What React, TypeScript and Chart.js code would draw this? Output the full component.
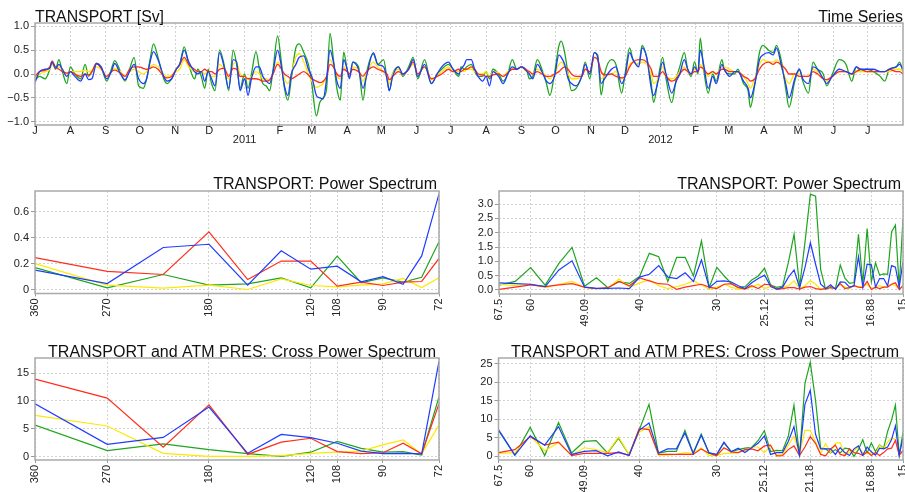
import React, { useEffect, useRef } from 'react';
import { Chart, registerables } from 'chart.js';

Chart.register(...registerables);

const FONT_FAMILY = '"Liberation Sans", Arial, Helvetica, sans-serif';
const GREEN = '#1ea51e';
const BLUE = '#1e3cff';
const RED = '#ff2d1a';
const YELLOW = '#ffe800';

// ---------------- Time series (days since 1 Jul 2010) ----------------
const tsDays = [
  0, 4, 9, 13, 15, 18, 21, 24, 28, 31,
  35, 40, 44, 47, 50, 54, 58, 63, 67, 70,
  75, 79, 83, 87, 91, 95, 98, 101, 104, 108,
  113, 116, 120, 124, 127, 131, 135, 140, 143, 146,
  149, 152, 155, 158, 162, 166, 170, 174, 177, 180,
  184, 187, 190, 194, 197, 200, 203, 206, 209, 213,
  216, 219, 222, 225, 229, 232, 236, 240, 243, 247,
  250, 253, 256, 259, 262, 265, 268, 271, 274, 276,
  279, 284, 288, 291, 297, 301, 306, 309, 311, 314,
  319, 323, 328, 332, 336, 342, 348, 353, 357, 363,
  367, 372, 374, 377, 379, 383, 386, 389, 393, 396,
  399, 402, 407, 411, 415, 419, 423, 427, 432, 434,
  437, 441, 445, 449, 452, 456, 460, 462, 465, 468,
  471, 475, 480, 483, 487, 491, 494, 497, 500, 506,
  510, 515, 518, 522, 525, 530, 533, 537, 541, 543,
  547, 551, 554, 559, 563, 566, 570, 573, 576, 579,
  582, 584, 587, 591, 595, 598, 603, 605, 610, 614,
  617, 622, 626, 628, 632, 636, 639, 644, 648, 651,
  655, 659, 662, 667, 671, 674, 679, 683, 687, 692,
  695, 700, 706, 712, 717, 721, 725, 730, 736, 742,
  746, 750, 756, 759, 762,
];
const tsGreen = [
  -0.12, -0.05, -0.1, 0.1, 0.27, 0.1, 0.3, 0.05, -0.2, 0.15,
  0.0, -0.1, 0.2, -0.05, 0.05, 0.22, 0.15, -0.15, 0.1, 0.28,
  0.05, -0.15, 0.1, 0.35, -0.25, -0.3, -0.1, 0.3, 0.63, 0.35,
  -0.1, -0.2, -0.1, 0.1, 0.2, 0.57, 0.2, -0.1, 0.1, -0.05,
  -0.3, 0.1, -0.2, -0.35, 0.5, 0.2, -0.35, 0.5, 0.2, -0.3,
  0.0, -0.3, 0.0, 0.47, 0.1, -0.2, -0.25, -0.35, 0.1, 0.8,
  0.3, -0.3, -0.55, -0.1, 0.55, 0.63, 0.45, 0.2, -0.2, -0.88,
  -0.6, -0.5, -0.3, 0.85, 0.3, -0.3, -0.55, 0.46, 0.1, -0.05,
  0.25, 0.15, -0.55, 0.0, 0.42, 0.2, 0.3, -0.1, -0.35, 0.0,
  0.15, -0.05, 0.15, 0.35, -0.1, 0.3, -0.2, 0.0, 0.1, 0.2,
  0.1, -0.05, 0.15, 0.1, 0.15, 0.2, 0.05, -0.05, -0.05, 0.05,
  -0.1, 0.1, 0.0, -0.15, 0.0, 0.3, 0.1, 0.15, 0.05, -0.1,
  -0.05, 0.3, 0.1, -0.2, -0.45, 0.0, 0.6, 0.69, 0.45, 0.0,
  -0.35, -0.3, -0.05, 0.25, -0.1, 0.45, 0.4, -0.44, 0.0, 0.3,
  0.2, -0.4, 0.0, 0.55, 0.3, 0.2, 0.6, 0.35, -0.2, -0.6,
  -0.1, 0.35, -0.1, -0.6, -0.1, 0.15, 0.45, 0.1, -0.05, 0.26,
  0.0, 0.75, 0.1, -0.4, 0.0, -0.15, 0.3, 0.1, 0.0, 0.0,
  0.1, -0.2, -0.35, -0.7, -0.2, 0.45, 0.6, 0.5, 0.45, 0.6,
  0.3, -0.3, -0.7, -0.15, 0.1, -0.15, -0.4, 0.25, 0.1, 0.0,
  -0.25, 0.0, 0.3, 0.2, -0.15, 0.15, 0.05, 0.1, 0.05, -0.05,
  -0.15, 0.1, 0.15, 0.25, 0.05,
];
const tsBlue = [
  -0.18, 0.05, 0.1, 0.12, 0.25, 0.12, 0.2, 0.1, -0.05, 0.05,
  -0.05, -0.15, 0.0, -0.12, -0.1, 0.22, 0.15, -0.1, 0.05, 0.22,
  0.0, -0.12, 0.05, 0.2, -0.1, -0.2, -0.1, 0.25, 0.47, 0.3,
  -0.05, -0.15, -0.1, 0.1, 0.2, 0.5, 0.25, 0.05, 0.0, 0.05,
  -0.15, 0.05, -0.1, -0.25, 0.45, 0.15, -0.3, 0.3, 0.25, -0.35,
  -0.1, -0.45, -0.1, 0.15, 0.15, -0.05, -0.15, -0.2, 0.05, 0.5,
  0.2, -0.25, -0.45, 0.0, 0.2, 0.35, 0.38, 0.1, -0.05, -0.45,
  -0.5, -0.52, -0.1, 0.5, 0.25, -0.15, -0.3, 0.3, 0.1, -0.1,
  0.25, 0.1, -0.3, -0.05, 0.45, 0.2, 0.15, -0.1, -0.35, -0.05,
  0.15, 0.0, 0.1, 0.3, -0.05, 0.2, -0.2, 0.0, 0.15, 0.25,
  0.1, 0.0, 0.1, 0.2, 0.3, 0.3, 0.1, -0.05, -0.15, -0.05,
  -0.25, 0.05, -0.05, -0.2, 0.0, 0.15, 0.1, 0.15, 0.05, 0.0,
  -0.1, 0.2, 0.05, -0.15, -0.2, -0.05, 0.4, 0.35, 0.2, -0.1,
  -0.2, -0.25, -0.05, 0.2, 0.0, 0.45, 0.35, -0.2, -0.1, 0.1,
  0.15, -0.2, -0.05, 0.45, 0.3, 0.15, 0.55, 0.35, -0.3, -0.45,
  -0.15, 0.25, 0.0, -0.4, -0.15, 0.0, 0.3, 0.1, 0.0, 0.15,
  0.05, 0.5, 0.2, -0.3, -0.05, -0.2, 0.2, 0.1, -0.05, 0.05,
  0.05, -0.15, -0.3, -0.5, -0.2, 0.3, 0.4, 0.45, 0.4, 0.55,
  0.2, -0.2, -0.5, -0.1, 0.1, -0.1, -0.2, 0.15, 0.1, -0.1,
  -0.2, -0.05, 0.1, 0.05, 0.0, 0.15, 0.1, 0.1, 0.1, 0.05,
  0.05, 0.1, 0.15, 0.2, 0.1,
];
const tsYellow = [
  -0.08, 0.0, 0.05, 0.1, 0.2, 0.12, 0.15, 0.1, 0.0, 0.05,
  0.05, 0.05, 0.08, 0.05, 0.08, 0.15, 0.1, -0.05, 0.05, 0.12,
  0.05, -0.05, 0.05, 0.1, 0.05, 0.0, 0.05, 0.15, 0.2, 0.15,
  0.0, -0.05, -0.02, 0.05, 0.1, 0.3, 0.15, 0.05, 0.05, 0.05,
  0.0, 0.05, -0.05, -0.05, 0.2, 0.1, -0.1, 0.2, 0.25, 0.0,
  -0.05, -0.1, -0.05, 0.05, 0.0, -0.1, -0.1, -0.15, 0.0, 0.25,
  0.15, -0.1, -0.2, 0.0, 0.35, 0.43, 0.25, 0.0, -0.15, -0.28,
  -0.25, -0.2, -0.05, 0.3, 0.15, -0.05, -0.1, 0.15, 0.05, 0.0,
  0.15, 0.1, -0.15, 0.0, 0.25, 0.15, 0.05, -0.05, -0.2, 0.0,
  0.1, 0.0, 0.1, 0.2, 0.0, 0.15, -0.12, -0.05, 0.05, 0.15,
  0.05, 0.05, 0.08, 0.05, 0.1, 0.1, 0.05, 0.0, 0.0, 0.05,
  -0.05, 0.05, 0.02, -0.05, 0.05, 0.1, 0.1, 0.15, 0.05, 0.05,
  0.0, 0.1, 0.05, -0.05, -0.1, 0.0, 0.2, 0.25, 0.15, 0.0,
  -0.1, -0.1, -0.05, 0.1, 0.05, 0.35, 0.3, -0.1, -0.05, 0.0,
  0.05, -0.1, -0.05, 0.2, 0.25, 0.2, 0.25, 0.2, 0.0, -0.2,
  -0.1, 0.15, -0.05, -0.1, -0.05, 0.05, 0.15, 0.05, 0.0, 0.1,
  0.05, 0.2, 0.1, -0.05, 0.05, 0.0, 0.15, 0.15, 0.1, 0.05,
  0.05, -0.05, -0.2, -0.3, -0.1, 0.2, 0.3, 0.25, 0.25, 0.3,
  0.15, -0.1, -0.2, 0.0, 0.0, -0.05, -0.05, 0.1, 0.05, -0.1,
  -0.15, -0.05, 0.05, 0.05, 0.0, 0.05, 0.05, 0.05, 0.05, 0.05,
  0.05, 0.05, 0.1, 0.1, 0.05,
];
const tsRed = [
  -0.05, 0.05, 0.08, 0.15, 0.27, 0.15, 0.1, 0.05, 0.02, 0.05,
  0.0, -0.05, 0.0, -0.02, 0.05, 0.22, 0.12, -0.05, 0.05, 0.08,
  0.02, -0.05, 0.1, 0.15, 0.15, 0.12, 0.1, 0.12, 0.15, 0.1,
  -0.05, -0.08, -0.05, 0.1, 0.2, 0.35, 0.2, 0.1, 0.05, 0.05,
  0.1, 0.05, 0.05, 0.0, 0.1, 0.12, -0.05, 0.12, 0.1, -0.05,
  -0.05, -0.1, -0.1, -0.1, -0.12, -0.15, -0.15, -0.12, 0.0, 0.2,
  0.12, 0.0, -0.05, -0.1, -0.05, 0.0, 0.05, -0.02, -0.1, -0.15,
  -0.18, -0.15, -0.05, 0.2, 0.15, 0.0, -0.05, 0.1, 0.05, 0.0,
  0.1, 0.05, -0.05, 0.05, 0.15, 0.1, 0.05, 0.0, -0.12, -0.05,
  0.05, 0.0, 0.1, 0.25, 0.0, 0.15, -0.1, -0.05, 0.0, 0.1,
  0.05, 0.1, 0.05, 0.1, 0.1, 0.15, 0.1, 0.0, -0.02, -0.05,
  -0.05, -0.02, 0.0, -0.05, 0.02, 0.1, 0.1, 0.15, 0.08, 0.05,
  0.0, 0.05, 0.0, -0.05, -0.05, 0.0, 0.05, 0.1, 0.15, 0.1,
  0.0, -0.05, -0.05, 0.1, 0.05, 0.35, 0.3, 0.05, -0.02, 0.0,
  -0.05, -0.08, -0.05, 0.15, 0.25, 0.3, 0.3, 0.25, 0.1, -0.05,
  -0.05, 0.05, -0.05, -0.15, -0.1, 0.0, 0.1, 0.05, 0.0, 0.05,
  0.05, 0.15, 0.1, 0.0, 0.05, 0.0, 0.1, 0.1, 0.05, 0.05,
  0.05, -0.05, -0.1, -0.15, -0.1, 0.1, 0.2, 0.25, 0.2, 0.25,
  0.2, 0.1, 0.0, 0.0, -0.05, -0.05, -0.05, 0.05, 0.0, -0.1,
  -0.12, -0.05, 0.05, 0.05, 0.0, 0.05, 0.1, 0.05, 0.05, 0.05,
  0.05, 0.1, 0.05, 0.05, 0.0,
];

const tsDayMax = 762;
const monthTickDays = [0, 31, 62, 92, 123, 153, 184, 215, 243, 274, 304, 335, 365, 396, 427, 457, 488, 518, 549, 580, 609, 640, 670, 701, 731];
const monthLetters = ['J', 'A', 'S', 'O', 'N', 'D', '', 'F', 'M', 'A', 'M', 'J', 'J', 'A', 'S', 'O', 'N', 'D', '', 'F', 'M', 'A', 'M', 'J', 'J'];
const yearUnder = ['', '', '', '', '', '', '2011', '', '', '', '', '', '', '', '', '', '', '', '2012', '', '', '', '', '', ''];
const tsYTicks = [-1, -0.5, 0, 0.5, 1];
const tsYLabels = ['\u22121.0', '\u22120.5', '0.0', '0.5', '1.0'];

// ---------------- Spectra ----------------
const RECORD_DAYS = 1080;
const lowHarmonics = [3, 4, 5, 6, 7, 8, 9, 10, 11, 12, 13, 14, 15];
const highHarmonics = [
  16, 17, 18, 19, 20, 21, 22, 23, 24, 25,
  26, 27, 28, 29, 30, 31, 32, 33, 34, 35,
  36, 37, 38, 39, 40, 41, 42, 43, 44, 45,
  46, 47, 48, 49, 50, 51, 52, 53, 54, 55,
  56, 57, 58, 59, 60, 61, 62, 63, 64, 65,
  66, 67, 68, 69, 70, 71, 72,
];
const lowPeriodTicks = [360, 270, 180, 120, 108, 90, 72];
const lowPeriodLabels = ['360', '270', '180', '120', '108', '90', '72'];
const highPeriodTicks = [67.5, 60, 1080 / 22, 40, 30, 1080 / 43, 1080 / 51, 1080 / 64, 15];
const highPeriodLabels = ['67.5', '60', '49.09', '40', '30', '25.12', '21.18', '16.88', '15'];

const psLowGreen = [0.17, 0.013, 0.116, 0.034, 0.044, 0.09, 0.013, 0.258, 0.052, 0.09, 0.057, 0.095, 0.37];
const psLowBlue = [0.15, 0.046, 0.325, 0.35, 0.034, 0.3, 0.157, 0.18, 0.06, 0.1, 0.04, 0.26, 0.74];
const psLowRed = [0.247, 0.14, 0.116, 0.446, 0.077, 0.22, 0.22, 0.026, 0.057, 0.031, 0.057, 0.062, 0.24];
const psLowYellow = [0.2, 0.034, 0.01, 0.034, 0.0, 0.082, 0.031, 0.02, 0.034, 0.044, 0.085, 0.015, 0.09];

const psHighGreen = [
  0.17, 0.3, 0.78, 0.17, 0.93, 1.49, 0.13, 0.43, 0.08, 0.29,
  0.23, 0.47, 1.28, 1.16, 0.3, 1.14, 1.14, 0.49, 1.72, 0.09,
  0.79, 0.49, 0.23, 0.08, 0.12, 0.35, 0.49, 0.76, 0.17, 0.09,
  0.14, 0.97, 1.95, 0.12, 1.69, 3.35, 3.28, 0.7, 0.02, 0.12,
  0.06, 0.87, 0.41, 0.23, 0.26, 1.95, 0.23, 2.15, 0.29, 0.95,
  0.52, 0.56, 0.55, 2.03, 2.27, 0.1, 2.5,
];
const psHighBlue = [
  0.25, 0.22, 0.2, 0.12, 0.7, 1.02, 0.1, 0.06, 0.06, 0.07,
  0.05, 0.45, 0.55, 0.85, 0.45, 0.4, 0.6, 0.3, 1.05, 0.08,
  0.3, 0.32, 0.28, 0.15, 0.05, 0.25, 0.4, 0.52, 0.12, 0.03,
  0.1, 0.45, 0.7, 0.08, 0.8, 1.65, 0.9, 0.2, 0.05, 0.18,
  0.02, 0.28, 0.27, 0.1, 0.15, 1.17, 0.1, 0.9, 0.88, 0.1,
  0.4, 0.4, 0.15, 0.85, 0.8, 0.1, 1.0,
];
const psHighRed = [
  0.02, 0.1, 0.18, 0.12, 0.18, 0.22, 0.1, 0.05, 0.08, 0.3,
  0.15, 0.42, 0.32, 0.22, 0.2, 0.02, 0.1, 0.15, 0.2, 0.1,
  0.05, 0.2, 0.22, 0.08, 0.03, 0.15, 0.05, 0.2, 0.18, 0.02,
  0.05, 0.08, 0.08, 0.03, 0.1, 0.12, 0.05, 0.02, 0.05, 0.08,
  0.05, 0.22, 0.05, 0.08, 0.15, 0.1, 0.08, 0.3, 0.02, 0.1,
  0.05, 0.1, 0.1, 0.2, 0.25, 0.02, 0.15,
];
const psHighYellow = [
  0.2, 0.15, 0.2, 0.08, 0.2, 0.3, 0.08, 0.05, 0.05, 0.38,
  0.1, 0.25, 0.35, 0.15, 0.05, 0.12, 0.2, 0.32, 0.18, 0.02,
  0.1, 0.2, 0.1, 0.02, 0.05, 0.1, 0.2, 0.05, 0.12, 0.02,
  0.1, 0.15, 0.32, 0.05, 0.15, 0.33, 0.2, 0.02, 0.1, 0.08,
  0.05, 0.2, 0.1, 0.05, 0.15, 0.1, 0.15, 0.2, 0.05, 0.1,
  0.15, 0.1, 0.15, 0.2, 0.15, 0.05, 0.1,
];

const cpLowGreen = [5.65, 1.1, 2.3, 1.25, 0.55, 0.05, 0.8, 2.75, 1.5, 0.8, 0.9, 0.3, 10.7];
const cpLowBlue = [9.5, 2.2, 3.45, 8.9, 0.6, 4.0, 3.4, 2.4, 1.0, 0.55, 0.6, 0.5, 17.1];
const cpLowRed = [13.9, 10.5, 1.7, 9.3, 0.4, 2.6, 3.3, 0.9, 0.55, 0.7, 2.4, 0.5, 9.5];
const cpLowYellow = [7.4, 5.5, 0.6, 0.05, 0.05, 0.2, 0.6, 0.8, 1.0, 2.1, 3.0, 0.5, 5.65];

const cpHighGreen = [
  7.0, 0.3, 7.8, 0.2, 9.1, 0.9, 4.0, 4.2, 0.9, 4.9,
  0.4, 7.1, 14.0, 0.9, 1.3, 1.3, 7.0, 0.9, 6.0, 0.9,
  0.4, 3.6, 1.3, 1.8, 2.2, 2.4, 4.2, 6.9, 1.3, 1.6,
  1.5, 5.4, 13.8, 0.2, 19.6, 25.4, 15.2, 2.2, 2.0, 0.9,
  1.8, 0.9, 2.2, 2.0, 0.0, 1.8, 4.5, 0.9, 3.6, 1.3,
  3.1, 2.2, 6.7, 9.8, 13.8, 0.3, 6.5,
];
const cpHighBlue = [
  7.2, 0.3, 5.5, 3.0, 8.0, 0.5, 1.3, 1.5, 0.1, 1.2,
  0.2, 7.0, 9.0, 0.9, 2.0, 2.0, 6.3, 0.7, 5.7, 0.9,
  0.5, 3.8, 1.2, 2.2, 1.0, 2.3, 3.5, 5.5, 0.5, 1.0,
  1.0, 4.0, 8.0, 0.3, 14.0, 17.8, 6.0, 2.0, 2.0, 2.0,
  0.5, 2.3, 1.0, 0.2, 2.0, 2.8, 0.3, 2.5, 1.2, 0.3,
  2.2, 2.0, 2.5, 4.5, 8.2, 0.3, 5.0,
];
const cpHighYellow = [
  0.8, 1.0, 5.5, 1.5, 3.7, 0.3, 2.3, 1.8, 1.0, 5.2,
  0.5, 6.5, 8.0, 0.3, 0.4, 0.5, 1.0, 0.8, 2.2, 0.2,
  0.2, 0.8, 0.8, 1.0, 1.5, 2.5, 2.5, 1.0, 2.8, 0.3,
  0.5, 3.0, 5.5, 0.5, 7.0, 7.0, 4.0, 0.8, 3.4, 1.0,
  3.5, 3.7, 0.2, 1.0, 1.5, 2.5, 1.0, 0.8, 1.0, 0.5,
  3.0, 2.0, 3.8, 5.0, 4.5, 0.5, 1.5,
];
const cpHighRed = [
  1.0, 1.8, 5.3, 3.0, 3.8, 0.2, 0.8, 0.8, 0.8, 1.0,
  0.3, 7.5, 7.2, 0.5, 0.5, 0.5, 0.5, 0.5, 2.0, 0.8,
  0.1, 2.3, 1.2, 1.0, 1.8, 2.0, 1.5, 2.8, 3.0, 0.1,
  0.2, 1.8, 2.8, 0.2, 2.5, 5.3, 3.5, 0.5, 0.1, 2.0,
  3.0, 0.5, 0.2, 2.0, 1.0, 0.8, 0.2, 1.2, 0.2, 1.0,
  0.2, 1.0, 2.0, 2.2, 4.3, 0.3, 1.5,
];

// ---------------- helpers ----------------
const tickFont = { family: FONT_FAMILY, size: 11 };
const GRID_COLOR = '#d2d2d2';
const TICK_COLOR = '#999999';

function lineDataset(points: any[], color: string, width: number, smooth: boolean) {
  return {
    data: points,
    borderColor: color,
    backgroundColor: color,
    borderWidth: width,
    pointRadius: 0,
    fill: false,
    tension: smooth ? 0.4 : 0,
    cubicInterpolationMode: smooth ? 'monotone' : 'default',
  };
}

function pairs(xs: number[], ys: number[]) {
  return xs.map((x, i) => ({ x, y: ys[i] }));
}

const framePlugin = {
  id: 'panelFrame',
  afterDatasetsDraw(chart: any) {
    const { ctx, chartArea: a } = chart;
    ctx.save();
    ctx.strokeStyle = '#a9a9a9';
    ctx.lineWidth = 1.5;
    ctx.strokeRect(a.left, a.top, a.right - a.left, a.bottom - a.top);
    ctx.restore();
  },
};

type TitleItem = { text: string; x: number; y: number; align: CanvasTextAlign; maxWidth: number };

function titlePlugin(items: TitleItem[]) {
  return {
    id: 'panelTitles',
    afterDraw(chart: any) {
      const ctx = chart.ctx;
      ctx.save();
      ctx.fillStyle = '#111111';
      ctx.font = `16px ${FONT_FAMILY}`;
      ctx.textBaseline = 'alphabetic';
      items.forEach((t) => {
        ctx.textAlign = t.align;
        ctx.fillText(t.text, t.x, t.y, t.maxWidth);
      });
      ctx.restore();
    },
  };
}

function yAxis(width: number, min: number, max: number, values: number[], labels: string[]) {
  return {
    type: 'linear',
    min,
    max,
    afterFit: (s: any) => {
      s.width = width;
      s.paddingTop = 0;
      s.paddingBottom = 0;
    },
    afterBuildTicks: (s: any) => {
      s.ticks = values.map((v) => ({ value: v }));
    },
    ticks: {
      autoSkip: false,
      padding: 2,
      color: '#222222',
      font: tickFont,
      callback: (_v: any, i: number) => labels[i],
    },
    grid: { color: GRID_COLOR, lineWidth: 1, drawTicks: true, tickLength: 4, tickColor: TICK_COLOR, tickWidth: 1, tickBorderDash: [] },
    border: { display: false, dash: [2, 2] },
  };
}

function timeSeriesConfig() {
  return {
    type: 'line',
    data: {
      datasets: [
        lineDataset(pairs(tsDays, tsBlue), BLUE, 1.3, true),
        lineDataset(pairs(tsDays, tsRed), RED, 1.3, true),
        lineDataset(pairs(tsDays, tsYellow), YELLOW, 1.3, true),
        lineDataset(pairs(tsDays, tsGreen), GREEN, 1.3, true),
      ],
    },
    options: {
      responsive: false,
      animation: false,
      events: [],
      layout: { padding: { top: 23, right: 2, left: 0, bottom: 0 } },
      plugins: { legend: { display: false }, tooltip: { enabled: false }, title: { display: false } },
      scales: {
        x: {
          type: 'linear',
          min: 0,
          max: tsDayMax,
          afterFit: (s: any) => {
            s.height = 25;
            s.paddingLeft = 0;
            s.paddingRight = 0;
          },
          afterBuildTicks: (s: any) => {
            s.ticks = monthTickDays.map((v) => ({ value: v }));
          },
          ticks: {
            autoSkip: false,
            maxRotation: 0,
            minRotation: 0,
            padding: 0,
            color: '#222222',
            font: { family: FONT_FAMILY, size: 11, lineHeight: 0.8 },
            callback: (_v: any, i: number) => (yearUnder[i] ? [monthLetters[i], yearUnder[i]] : monthLetters[i]),
          },
          grid: { color: GRID_COLOR, lineWidth: 1, drawTicks: true, tickLength: 2, tickColor: TICK_COLOR, tickBorderDash: [] },
          border: { display: false, dash: [2, 2] },
        },
        y: yAxis(35, -1.07, 1.07, tsYTicks, tsYLabels),
      },
    },
    plugins: [
      framePlugin,
      titlePlugin([
        { text: 'TRANSPORT [Sv]', x: 35, y: 21.5, align: 'left', maxWidth: 129 },
        { text: 'Time Series', x: 903, y: 21.5, align: 'right', maxWidth: 86 },
      ]),
    ],
  };
}

type SpecOpts = {
  harmonics: number[];
  green: number[];
  blue: number[];
  red: number[];
  yellow: number[];
  xMin: number;
  xMax: number;
  xTicks: number[];
  xLabels: string[];
  yMin: number;
  yMax: number;
  yTicks: number[];
  yLabels: string[];
  yWidth: number;
  padTop: number;
  padRight: number;
  xHeight: number;
  title: string;
  titleX: number;
  titleY: number;
  titleWidth: number;
};

function spectrumConfig(o: SpecOpts) {
  const periods = o.harmonics.map((k) => RECORD_DAYS / k);
  return {
    type: 'line',
    data: {
      datasets: [
        lineDataset(pairs(periods, o.blue), BLUE, 1.2, false),
        lineDataset(pairs(periods, o.red), RED, 1.2, false),
        lineDataset(pairs(periods, o.yellow), YELLOW, 1.2, false),
        lineDataset(pairs(periods, o.green), GREEN, 1.2, false),
      ],
    },
    options: {
      responsive: false,
      animation: false,
      events: [],
      layout: { padding: { top: o.padTop, right: o.padRight, left: 0, bottom: 0 } },
      plugins: { legend: { display: false }, tooltip: { enabled: false }, title: { display: false } },
      scales: {
        x: {
          type: 'logarithmic',
          reverse: true,
          min: o.xMin,
          max: o.xMax,
          afterFit: (s: any) => {
            s.height = o.xHeight;
            s.paddingLeft = 0;
            s.paddingRight = 0;
          },
          afterBuildTicks: (s: any) => {
            s.ticks = o.xTicks.map((v) => ({ value: v }));
          },
          ticks: {
            autoSkip: false,
            minRotation: 90,
            maxRotation: 90,
            padding: 2,
            color: '#222222',
            font: tickFont,
            callback: (_v: any, i: number) => o.xLabels[i],
          },
          grid: { color: GRID_COLOR, lineWidth: 1, drawTicks: true, tickLength: 3, tickColor: TICK_COLOR, tickBorderDash: [] },
          border: { display: false, dash: [2, 2] },
        },
        y: yAxis(o.yWidth, o.yMin, o.yMax, o.yTicks, o.yLabels),
      },
    },
    plugins: [
      framePlugin,
      titlePlugin([{ text: o.title, x: o.titleX, y: o.titleY, align: 'right', maxWidth: o.titleWidth }]),
    ],
  };
}

function ChartPanel(props: { left: number; top: number; width: number; height: number; makeConfig: () => any }) {
  const ref = useRef<HTMLCanvasElement | null>(null);
  useEffect(() => {
    if (!ref.current) return;
    const chart = new Chart(ref.current, props.makeConfig());
    return () => chart.destroy();
  }, []);
  return (
    <canvas
      ref={ref}
      width={props.width}
      height={props.height}
      style={{ position: 'absolute', left: props.left, top: props.top, width: props.width, height: props.height }}
    />
  );
}

export default function App() {
  return (
    <div style={{ position: 'absolute', left: 0, top: 0, width: 905, height: 492, background: '#ffffff', overflow: 'hidden' }}>
      <ChartPanel left={0} top={0} width={905} height={150} makeConfig={timeSeriesConfig} />
      <ChartPanel
        left={0}
        top={170}
        width={452}
        height={165}
        makeConfig={() =>
          spectrumConfig({
            harmonics: lowHarmonics, green: psLowGreen, blue: psLowBlue, red: psLowRed, yellow: psLowYellow,
            xMin: 72, xMax: 360, xTicks: lowPeriodTicks, xLabels: lowPeriodLabels,
            yMin: -0.031, yMax: 0.762, yTicks: [0, 0.2, 0.4, 0.6], yLabels: ['0', '0.2', '0.4', '0.6'],
            yWidth: 35, padTop: 21, padRight: 13, xHeight: 41.5,
            title: 'TRANSPORT: Power Spectrum', titleX: 437, titleY: 19, titleWidth: 224,
          })
        }
      />
      <ChartPanel
        left={452}
        top={170}
        width={453}
        height={165}
        makeConfig={() =>
          spectrumConfig({
            harmonics: highHarmonics, green: psHighGreen, blue: psHighBlue, red: psHighRed, yellow: psHighYellow,
            xMin: 15, xMax: 67.5, xTicks: highPeriodTicks, xLabels: highPeriodLabels,
            yMin: -0.14, yMax: 3.46, yTicks: [0, 0.5, 1, 1.5, 2, 2.5, 3], yLabels: ['0.0', '0.5', '1.0', '1.5', '2.0', '2.5', '3.0'],
            yWidth: 47, padTop: 21, padRight: 2, xHeight: 41,
            title: 'TRANSPORT: Power Spectrum', titleX: 449, titleY: 19, titleWidth: 224,
          })
        }
      />
      <ChartPanel
        left={0}
        top={335}
        width={452}
        height={157}
        makeConfig={() =>
          spectrumConfig({
            harmonics: lowHarmonics, green: cpLowGreen, blue: cpLowBlue, red: cpLowRed, yellow: cpLowYellow,
            xMin: 72, xMax: 360, xTicks: lowPeriodTicks, xLabels: lowPeriodLabels,
            yMin: -0.6, yMax: 17.7, yTicks: [0, 5, 10, 15], yLabels: ['0', '5', '10', '15'],
            yWidth: 35, padTop: 23, padRight: 13, xHeight: 32,
            title: 'TRANSPORT and ATM PRES: Cross Power Spectrum', titleX: 436, titleY: 21.7, titleWidth: 388,
          })
        }
      />
      <ChartPanel
        left={452}
        top={335}
        width={453}
        height={157}
        makeConfig={() =>
          spectrumConfig({
            harmonics: highHarmonics, green: cpHighGreen, blue: cpHighBlue, red: cpHighRed, yellow: cpHighYellow,
            xMin: 15, xMax: 67.5, xTicks: highPeriodTicks, xLabels: highPeriodLabels,
            yMin: -1.0, yMax: 26.5, yTicks: [0, 5, 10, 15, 20, 25], yLabels: ['0', '5', '10', '15', '20', '25'],
            yWidth: 46.5, padTop: 23, padRight: 2, xHeight: 32,
            title: 'TRANSPORT and ATM PRES: Cross Power Spectrum', titleX: 447, titleY: 21.7, titleWidth: 388,
          })
        }
      />
    </div>
  );
}
